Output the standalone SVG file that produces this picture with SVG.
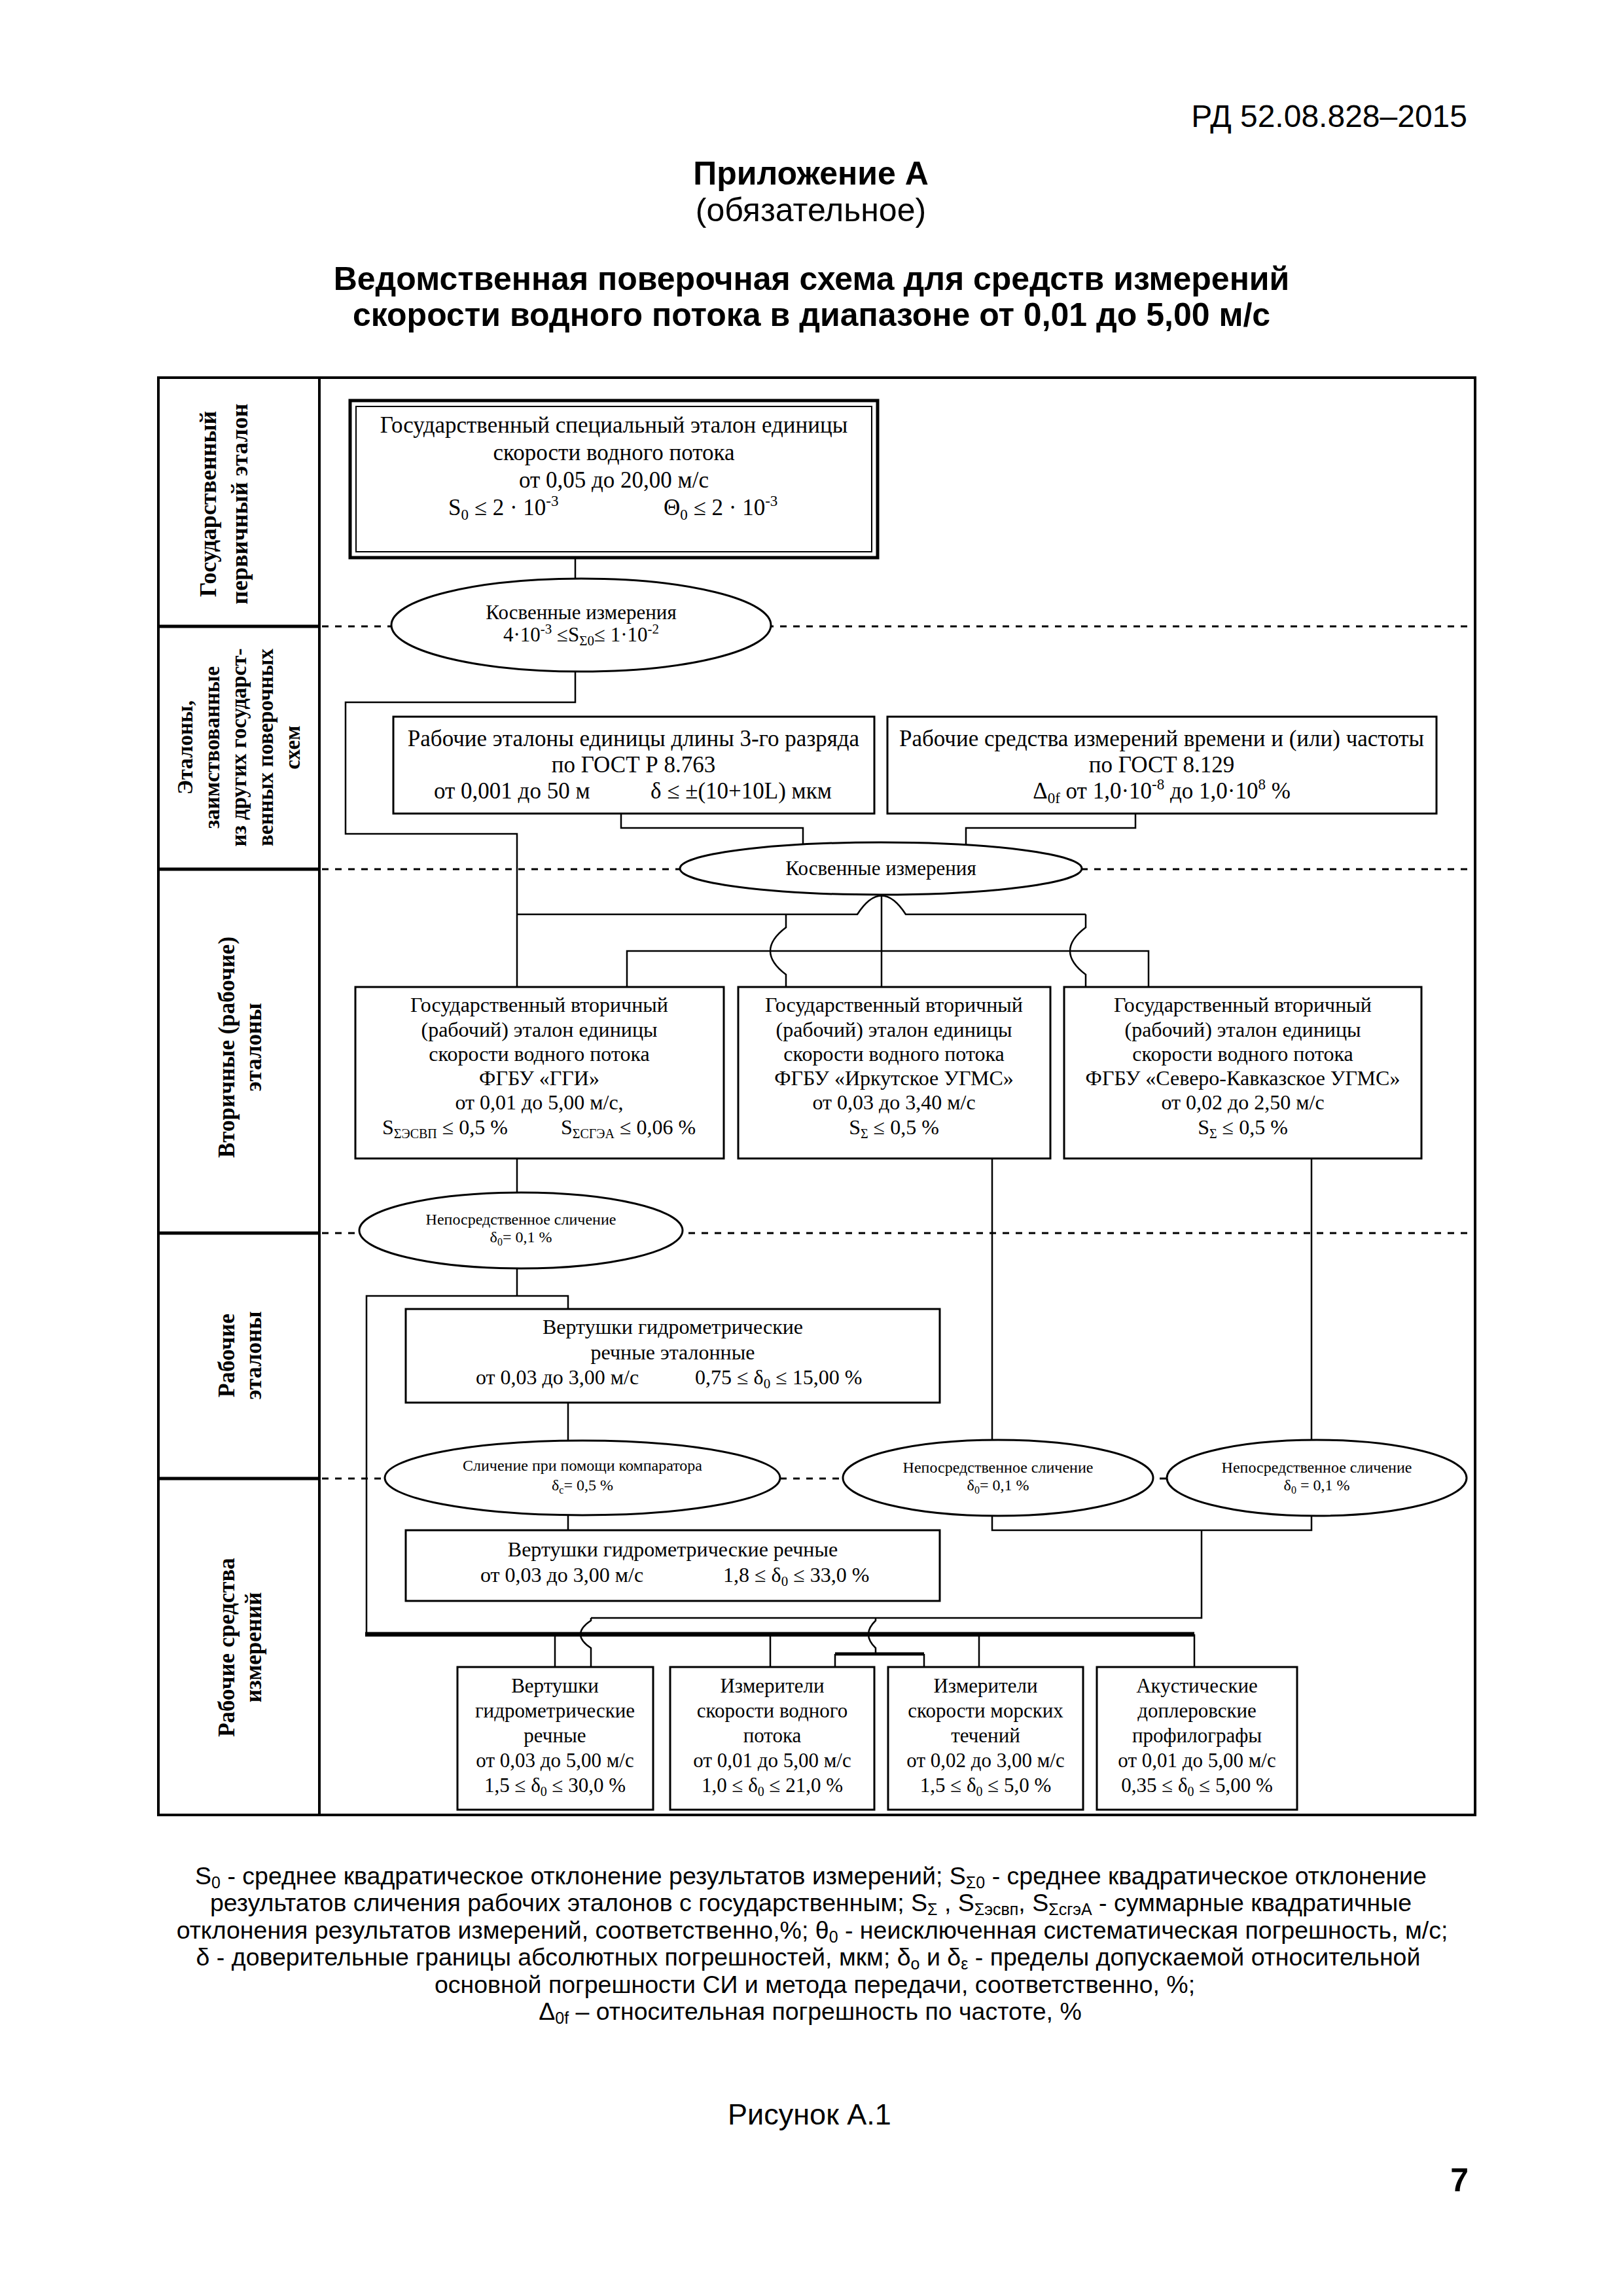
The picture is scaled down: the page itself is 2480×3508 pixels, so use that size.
<svg xmlns="http://www.w3.org/2000/svg" width="2480" height="3508" viewBox="0 0 2480 3508">
<style>
.s{font-family:"Liberation Serif","Times New Roman",serif;fill:#000}
.a{font-family:"Liberation Sans",Arial,sans-serif;fill:#000}
.c{text-anchor:middle}
.b{font-weight:bold}
.box{fill:#fff;stroke:#000;stroke-width:3}
.ell{fill:#fff;stroke:#000;stroke-width:3}
.ln{fill:none;stroke:#000;stroke-width:2.5}
.bus{fill:none;stroke:#000;stroke-width:7}
.dash{fill:none;stroke:#000;stroke-width:3;stroke-dasharray:10 10}
.div{fill:none;stroke:#000;stroke-width:5}
.f35{font-size:35px}.f32{font-size:32px}.f31{font-size:31px}.f24{font-size:24px}
</style>
<rect width="2480" height="3508" fill="#fff"/>
<g id="header">
<text class="a" x="2242" y="194" font-size="48" text-anchor="end">РД 52.08.828–2015</text>
<text class="a b c" x="1239" y="282" font-size="50">Приложение А</text>
<text class="a c" x="1239" y="338" font-size="50">(обязательное)</text>
<text class="a b c" x="1240" y="443" font-size="50">Ведомственная поверочная схема для средств измерений</text>
<text class="a b c" x="1240" y="498" font-size="50">скорости водного потока в диапазоне от 0,01 до 5,00 м/с</text>
</g>
<g id="frame">
<rect x="242" y="577" width="2012" height="2196" fill="none" stroke="#000" stroke-width="4"/>
<line x1="488" y1="577" x2="488" y2="2773" stroke="#000" stroke-width="4"/>
<line class="div" x1="242" y1="957" x2="488" y2="957"/>
<line class="div" x1="242" y1="1328" x2="488" y2="1328"/>
<line class="div" x1="242" y1="1884" x2="488" y2="1884"/>
<line class="div" x1="242" y1="2259" x2="488" y2="2259"/>
<line class="dash" x1="492" y1="957" x2="2252" y2="957"/>
<line class="dash" x1="492" y1="1328" x2="2252" y2="1328"/>
<line class="dash" x1="492" y1="1884" x2="2252" y2="1884"/>
<line class="dash" x1="492" y1="2259" x2="2252" y2="2259"/>
</g>
<g id="levels" class="s b">
<g transform="translate(0,770)">
<text class="c" font-size="36" transform="translate(330,0) rotate(-90)">Государственный</text>
<text class="c" font-size="36" transform="translate(378,0) rotate(-90)">первичный эталон</text>
</g>
<g transform="translate(0,1142)" font-size="33">
<text class="c" transform="translate(294,0) rotate(-90)">Эталоны,</text>
<text class="c" transform="translate(335,0) rotate(-90)">заимствованные</text>
<text class="c" transform="translate(376,0) rotate(-90)">из других государст-</text>
<text class="c" transform="translate(417,0) rotate(-90)">венных поверочных</text>
<text class="c" transform="translate(458,0) rotate(-90)">схем</text>
</g>
<g transform="translate(0,1600)" font-size="35">
<text class="c" transform="translate(358,0) rotate(-90)">Вторичные (рабочие)</text>
<text class="c" transform="translate(399,0) rotate(-90)">эталоны</text>
</g>
<g transform="translate(0,2071)" font-size="35">
<text class="c" transform="translate(358,0) rotate(-90)">Рабочие</text>
<text class="c" transform="translate(399,0) rotate(-90)">эталоны</text>
</g>
<g transform="translate(0,2517)" font-size="35">
<text class="c" transform="translate(358,0) rotate(-90)">Рабочие средства</text>
<text class="c" transform="translate(399,0) rotate(-90)">измерений</text>
</g>
</g>
<g id="connectors">
<path class="ln" d="M879,852 V884"/>
<path class="ln" d="M879,1025 V1073 H528 V1274 H790 V1508"/>
<path class="ln" d="M949,1243 V1265 H1227 V1290"/>
<path class="ln" d="M1735,1243 V1265 H1476 V1291"/>
<path class="ln" d="M1347,1367 V1508"/>
<path class="ln" d="M790,1397 H1310 Q1347,1340 1384,1397 H1659"/>
<path class="ln" d="M1201,1397 V1417 Q1153,1453 1201,1489 V1508"/>
<path class="ln" d="M1659,1397 V1417 Q1611,1453 1659,1489 V1508"/>
<path class="ln" d="M958,1508 V1453 H1755 V1508"/>
<path class="ln" d="M790,1770 V1823"/>
<path class="ln" d="M790,1937 V1980"/>
<path class="ln" d="M868,2000 V1980 H560 V2497"/>
<path class="ln" d="M868,2143 V2202"/>
<path class="ln" d="M868,2314 V2338"/>
<path class="ln" d="M1516,1770 V2201"/>
<path class="ln" d="M2004,1770 V2201"/>
<path class="ln" d="M1516,2315 V2338 H2004 V2315"/>
<path class="ln" d="M1836,2338 V2472 H903"/>
<path class="ln" d="M903,2472 V2476 Q871,2497 903,2518 V2547"/>
<path class="ln" d="M1338,2472 V2476 Q1316,2497 1338,2518 V2527"/>
<path class="bus" d="M558,2497 H1825"/>
<path class="ln" d="M848,2497 V2547 M1177,2497 V2547 M1496,2497 V2547 M1825,2497 V2547"/>
<path fill="none" stroke="#000" stroke-width="5" d="M1276,2527 H1412"/>
<path class="ln" d="M1276,2527 V2547 M1412,2527 V2547"/>
</g>
<g id="node-primary">
<rect x="535" y="612" width="806" height="240" fill="#fff" stroke="#000" stroke-width="5"/>
<rect x="544" y="621" width="788" height="222" fill="none" stroke="#000" stroke-width="2"/>
<g class="s f35">
<text class="c" x="938" y="661">Государственный специальный эталон единицы</text>
<text class="c" x="938" y="703">скорости водного потока</text>
<text class="c" x="938" y="745">от 0,05 до 20,00 м/с</text>
<text x="685" y="787">S<tspan font-size="23" dy="7">0</tspan><tspan dy="-7"> ≤ 2 · 10</tspan><tspan font-size="23" dy="-14">-3</tspan></text>
<text x="1014" y="787">Θ<tspan font-size="23" dy="7">0</tspan><tspan dy="-7"> ≤ 2 · 10</tspan><tspan font-size="23" dy="-14">-3</tspan></text>
</g>
</g>
<g id="node-indirect1">
<ellipse class="ell" cx="888" cy="955" rx="290" ry="71"/>
<text class="s f31 c" x="888" y="946">Косвенные измерения</text>
<text class="s f31 c" x="888" y="980">4·10<tspan font-size="21" dy="-12">-3</tspan><tspan dy="12"> ≤S</tspan><tspan font-size="21" dy="6">Σ0</tspan><tspan dy="-6">≤ 1·10</tspan><tspan font-size="21" dy="-12">-2</tspan></text>
</g>
<g id="node-length">
<rect class="box" x="601" y="1095" width="735" height="148"/>
<g class="s f35">
<text class="c" x="968" y="1140">Рабочие эталоны единицы длины 3-го разряда</text>
<text class="c" x="968" y="1180">по ГОСТ Р 8.763</text>
<text x="663" y="1220">от 0,001 до 50 м</text>
<text x="994" y="1220">δ ≤ ±(10+10L) мкм</text>
</g>
</g>
<g id="node-time">
<rect class="box" x="1356" y="1095" width="839" height="148"/>
<g class="s f35">
<text class="c" x="1775" y="1140">Рабочие средства измерений времени и (или) частоты</text>
<text class="c" x="1775" y="1180">по ГОСТ 8.129</text>
<text class="c" x="1775" y="1220">Δ<tspan font-size="23" dy="7">0f</tspan><tspan dy="-7"> от 1,0·10</tspan><tspan font-size="23" dy="-14">-8</tspan><tspan dy="14"> до 1,0·10</tspan><tspan font-size="23" dy="-14">8</tspan><tspan dy="14"> %</tspan></text>
</g>
</g>
<g id="node-indirect2">
<ellipse class="ell" cx="1346" cy="1327" rx="307" ry="40"/>
<text class="s f31 c" x="1346" y="1337">Косвенные измерения</text>
</g>
<g id="node-ggi">
<rect class="box" x="543" y="1508" width="563" height="262"/>
<g class="s f32">
<text class="c" x="824" y="1546">Государственный вторичный</text>
<text class="c" x="824" y="1584">(рабочий) эталон единицы</text>
<text class="c" x="824" y="1621">скорости водного потока</text>
<text class="c" x="824" y="1658">ФГБУ «ГГИ»</text>
<text class="c" x="824" y="1695">от 0,01 до 5,00 м/с,</text>
<text x="584" y="1733">S<tspan font-size="20" dy="6">ΣЭСВП</tspan><tspan dy="-6"> ≤ 0,5 %</tspan></text>
<text x="857" y="1733">S<tspan font-size="20" dy="6">ΣСГЭА</tspan><tspan dy="-6"> ≤ 0,06 %</tspan></text>
</g>
</g>
<g id="node-irkutsk">
<rect class="box" x="1128" y="1508" width="477" height="262"/>
<g class="s f32">
<text class="c" x="1366" y="1546">Государственный вторичный</text>
<text class="c" x="1366" y="1584">(рабочий) эталон единицы</text>
<text class="c" x="1366" y="1621">скорости водного потока</text>
<text class="c" x="1366" y="1658">ФГБУ «Иркутское УГМС»</text>
<text class="c" x="1366" y="1695">от 0,03 до 3,40 м/с</text>
<text class="c" x="1366" y="1733">S<tspan font-size="20" dy="6">Σ</tspan><tspan dy="-6"> ≤ 0,5 %</tspan></text>
</g>
</g>
<g id="node-sk">
<rect class="box" x="1626" y="1508" width="546" height="262"/>
<g class="s f32">
<text class="c" x="1899" y="1546">Государственный вторичный</text>
<text class="c" x="1899" y="1584">(рабочий) эталон единицы</text>
<text class="c" x="1899" y="1621">скорости водного потока</text>
<text class="c" x="1899" y="1658">ФГБУ «Северо-Кавказское УГМС»</text>
<text class="c" x="1899" y="1695">от 0,02 до 2,50 м/с</text>
<text class="c" x="1899" y="1733">S<tspan font-size="20" dy="6">Σ</tspan><tspan dy="-6"> ≤ 0,5 %</tspan></text>
</g>
</g>
<g id="node-direct1">
<ellipse class="ell" cx="796" cy="1880" rx="247" ry="58"/>
<text class="s f24 c" x="796" y="1871">Непосредственное сличение</text>
<text class="s f24 c" x="796" y="1898">δ<tspan font-size="16" dy="5">0</tspan><tspan dy="-5">= 0,1 %</tspan></text>
</g>
<g id="node-ref-meters">
<rect class="box" x="620" y="2000" width="816" height="143"/>
<g class="s f32">
<text class="c" x="1028" y="2038">Вертушки гидрометрические</text>
<text class="c" x="1028" y="2077">речные эталонные</text>
<text x="727" y="2115">от 0,03 до 3,00 м/с</text>
<text x="1062" y="2115">0,75 ≤ δ<tspan font-size="21" dy="6">0</tspan><tspan dy="-6"> ≤  15,00 %</tspan></text>
</g>
</g>
<g id="node-comparator">
<ellipse class="ell" cx="890" cy="2258" rx="302" ry="57"/>
<text class="s f24 c" x="890" y="2247">Сличение при помощи компаратора</text>
<text class="s f24 c" x="890" y="2277">δ<tspan font-size="16" dy="5">с</tspan><tspan dy="-5">= 0,5 %</tspan></text>
</g>
<g id="node-direct2">
<ellipse class="ell" cx="1525" cy="2258" rx="237" ry="58"/>
<text class="s f24 c" x="1525" y="2250">Непосредственное сличение</text>
<text class="s f24 c" x="1525" y="2277">δ<tspan font-size="16" dy="5">0</tspan><tspan dy="-5">= 0,1 %</tspan></text>
</g>
<g id="node-direct3">
<ellipse class="ell" cx="2012" cy="2258" rx="229" ry="58"/>
<text class="s f24 c" x="2012" y="2250">Непосредственное сличение</text>
<text class="s f24 c" x="2012" y="2277">δ<tspan font-size="16" dy="5">0</tspan><tspan dy="-5"> = 0,1 %</tspan></text>
</g>
<g id="node-meters">
<rect class="box" x="620" y="2338" width="816" height="108"/>
<g class="s f32">
<text class="c" x="1028" y="2378">Вертушки гидрометрические речные</text>
<text x="734" y="2417">от 0,03 до 3,00 м/с</text>
<text x="1105" y="2417">1,8 ≤ δ<tspan font-size="21" dy="6">0</tspan><tspan dy="-6"> ≤ 33,0 %</tspan></text>
</g>
</g>
<g id="node-wi-1">
<rect class="box" x="699" y="2547" width="299" height="218"/>
<g class="s f31">
<text class="c" x="848" y="2586">Вертушки</text>
<text class="c" x="848" y="2624">гидрометрические</text>
<text class="c" x="848" y="2662">речные</text>
<text class="c" x="848" y="2700">от 0,03 до 5,00 м/с</text>
<text class="c" x="848" y="2738">1,5 ≤ δ<tspan font-size="20" dy="6">0</tspan><tspan dy="-6"> ≤ 30,0 %</tspan></text>
</g>
</g>
<g id="node-wi-2">
<rect class="box" x="1024" y="2547" width="312" height="218"/>
<g class="s f31">
<text class="c" x="1180" y="2586">Измерители</text>
<text class="c" x="1180" y="2624">скорости водного</text>
<text class="c" x="1180" y="2662">потока</text>
<text class="c" x="1180" y="2700">от 0,01 до 5,00 м/с</text>
<text class="c" x="1180" y="2738">1,0 ≤ δ<tspan font-size="20" dy="6">0</tspan><tspan dy="-6"> ≤ 21,0 %</tspan></text>
</g>
</g>
<g id="node-wi-3">
<rect class="box" x="1357" y="2547" width="298" height="218"/>
<g class="s f31">
<text class="c" x="1506" y="2586">Измерители</text>
<text class="c" x="1506" y="2624">скорости морских</text>
<text class="c" x="1506" y="2662">течений</text>
<text class="c" x="1506" y="2700">от 0,02 до 3,00 м/с</text>
<text class="c" x="1506" y="2738">1,5 ≤ δ<tspan font-size="20" dy="6">0</tspan><tspan dy="-6"> ≤  5,0 %</tspan></text>
</g>
</g>
<g id="node-wi-4">
<rect class="box" x="1676" y="2547" width="306" height="218"/>
<g class="s f31">
<text class="c" x="1829" y="2586">Акустические</text>
<text class="c" x="1829" y="2624">доплеровские</text>
<text class="c" x="1829" y="2662">профилографы</text>
<text class="c" x="1829" y="2700">от 0,01 до 5,00 м/с</text>
<text class="c" x="1829" y="2738">0,35 ≤ δ<tspan font-size="20" dy="6">0</tspan><tspan dy="-6"> ≤ 5,00 %</tspan></text>
</g>
</g>
<g id="notes" class="a c" font-size="37.5">
<text x="1239" y="2879">S<tspan font-size="25" dy="6">0</tspan><tspan dy="-6"> - среднее квадратическое отклонение результатов измерений; S</tspan><tspan font-size="25" dy="6">Σ0</tspan><tspan dy="-6"> - среднее квадратическое отклонение</tspan></text>
<text x="1239" y="2920">результатов сличения рабочих эталонов с государственным; S<tspan font-size="25" dy="6">Σ</tspan><tspan dy="-6"> , S</tspan><tspan font-size="25" dy="6">Σэсвп</tspan><tspan dy="-6">, S</tspan><tspan font-size="25" dy="6">ΣсгэА</tspan><tspan dy="-6"> - суммарные квадратичные</tspan></text>
<text x="1241" y="2962">отклонения результатов измерений, соответственно,%; θ<tspan font-size="25" dy="6">0</tspan><tspan dy="-6"> - неисключенная систематическая погрешность, м/с;</tspan></text>
<text x="1235" y="3003">δ - доверительные границы абсолютных погрешностей, мкм; δ<tspan font-size="25" dy="6">о</tspan><tspan dy="-6"> и δ</tspan><tspan font-size="25" dy="6">ε</tspan><tspan dy="-6"> - пределы допускаемой относительной</tspan></text>
<text x="1245" y="3045">основной погрешности СИ и метода передачи, соответственно, %;</text>
<text x="1238" y="3086">Δ<tspan font-size="25" dy="6">0f</tspan><tspan dy="-6"> – относительная погрешность по частоте, %</tspan></text>
</g>
<g id="footer">
<text class="a c" x="1237" y="3246" font-size="45">Рисунок А.1</text>
<text class="a b" x="2244" y="3348" font-size="50" text-anchor="end">7</text>
</g>
</svg>
